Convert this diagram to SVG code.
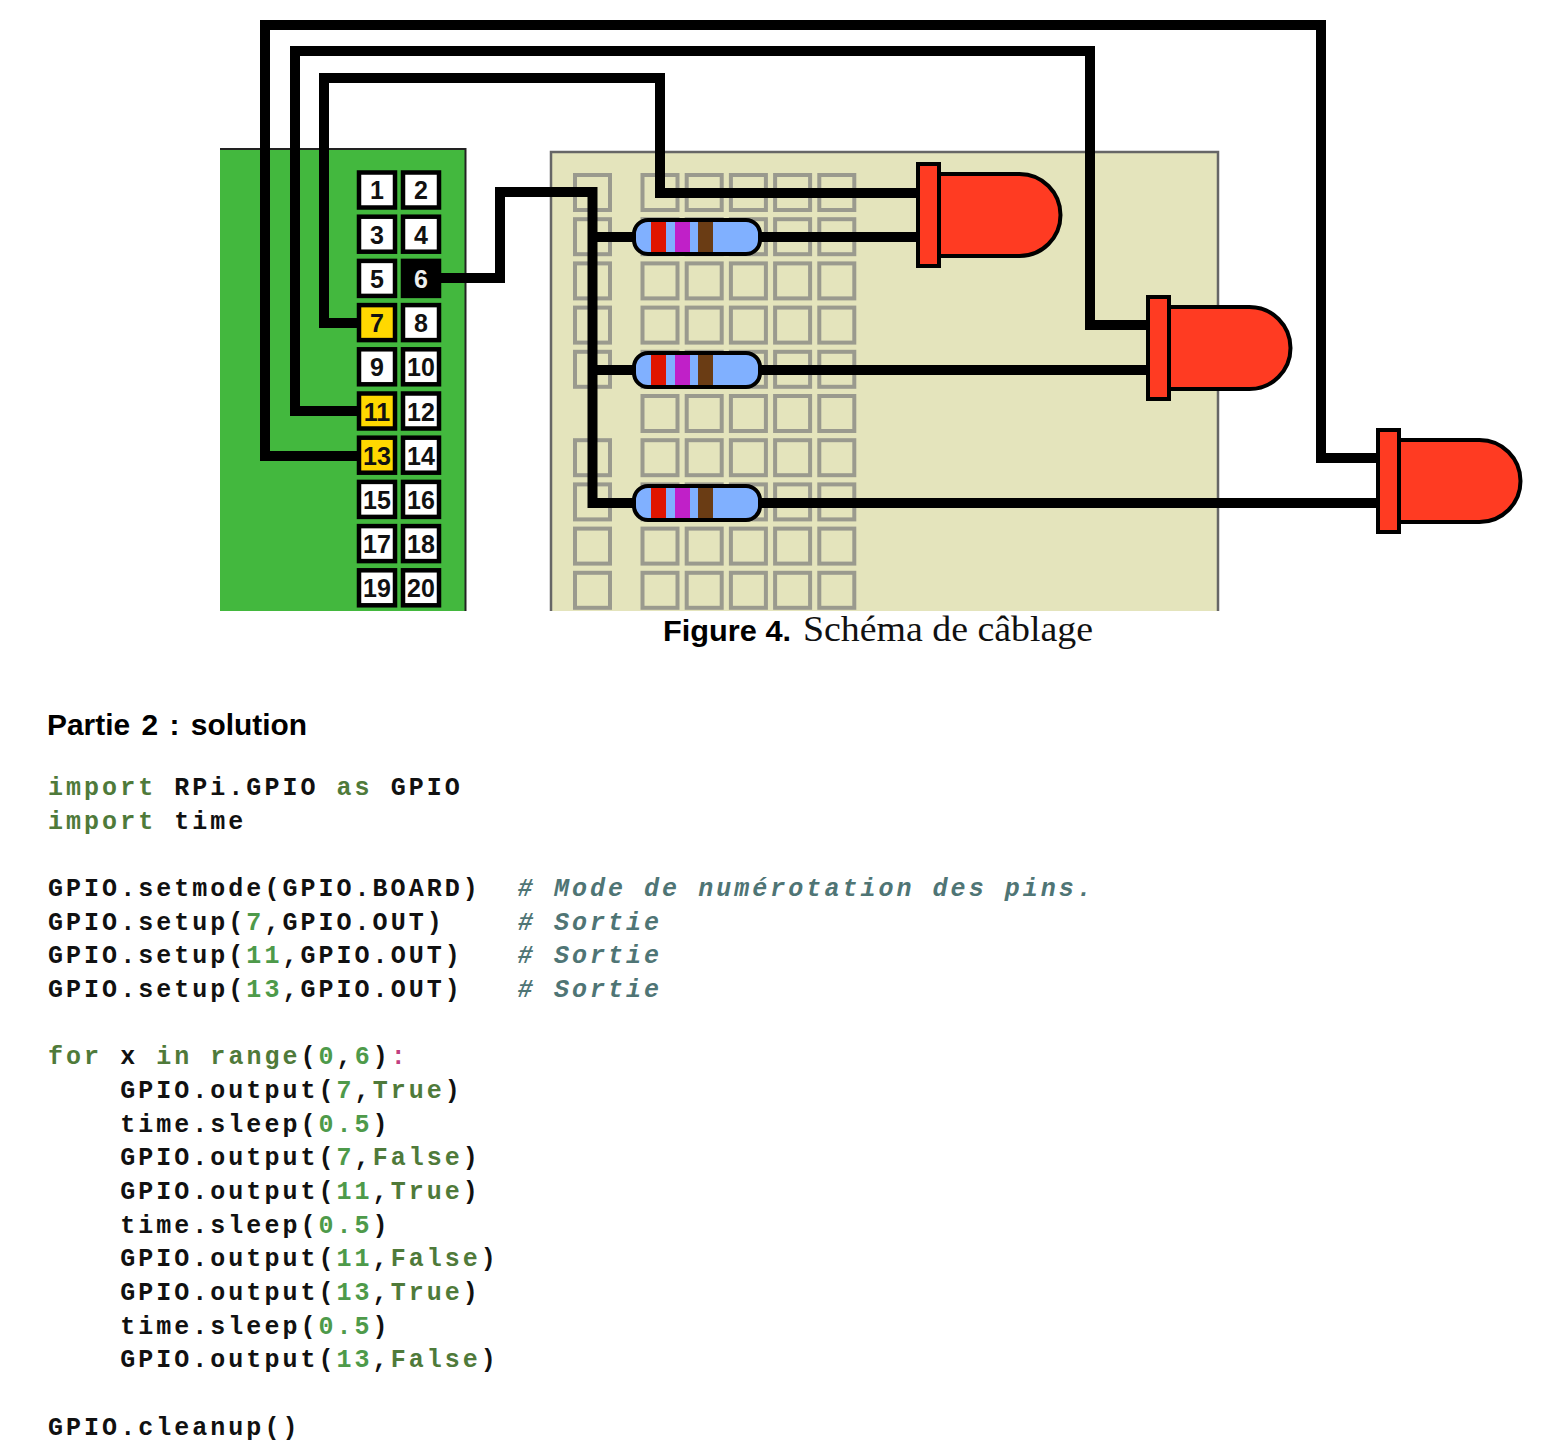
<svg xmlns="http://www.w3.org/2000/svg" width="1556" height="1454" viewBox="0 0 1556 1454">
<style>
.wire{fill:none;stroke:#000;stroke-width:10;stroke-linejoin:miter}
.pad{fill:none;stroke:#9a9a8e;stroke-width:4}
.pin{fill:#fff;stroke:#000;stroke-width:4.5}
.y{fill:#ffd800}
.k{fill:#000}
.pt{font:bold 25px "Liberation Sans",Arial,sans-serif;text-anchor:middle;fill:#111}
.w{fill:#eee}
.led{fill:#ff3b22;stroke:#000;stroke-width:4}
.rb{fill:#80b0ff;stroke:#000;stroke-width:4}
.code{font:bold 25px "Liberation Mono","Courier New",monospace;letter-spacing:3.03px;fill:#111;white-space:pre}
.kw{fill:#4f7a3a}
.n{fill:#4e9a4a}
.c{fill:#4f7575;font-style:italic}
.p{fill:#c04080}
</style>
<defs>
<clipPath id="img"><rect x="220" y="0" width="1320" height="611"/></clipPath>
<rect id="h" class="pad" x="-17.5" y="-17.5" width="35" height="35"/>
<g id="res">
<rect class="rb" x="634" y="-17" width="126" height="34" rx="14"/>
<rect x="651" y="-15" width="15" height="30" fill="#e01500"/>
<rect x="675" y="-15" width="15" height="30" fill="#c020c8"/>
<rect x="698" y="-15" width="15" height="30" fill="#6a3c14"/>
</g>
<g id="ledshape">
<path class="led" d="M938 174H1019A41 41 0 0 1 1019 256H938Z"/>
<rect class="led" x="917.5" y="164" width="21" height="102"/>
</g>
</defs>
<g clip-path="url(#img)">
<g id="board">
<rect x="210" y="149" width="255.5" height="480" fill="#43b83e" stroke="#222" stroke-width="2"/>
</g>
<g id="breadboard">
<rect x="551" y="152" width="667" height="480" fill="#e4e4bc" stroke="#666" stroke-width="2.5"/>
<g id="pads">
<use href="#h" x="592.5" y="192.5"/><use href="#h" x="592.5" y="236.7"/><use href="#h" x="592.5" y="280.9"/><use href="#h" x="592.5" y="325.1"/><use href="#h" x="592.5" y="369.3"/><use href="#h" x="592.5" y="457.7"/><use href="#h" x="592.5" y="501.9"/><use href="#h" x="592.5" y="546.1"/><use href="#h" x="592.5" y="590.3"/>
<use href="#h" x="660" y="192.5"/><use href="#h" x="660" y="236.7"/><use href="#h" x="660" y="280.9"/><use href="#h" x="660" y="325.1"/><use href="#h" x="660" y="369.3"/><use href="#h" x="660" y="413.5"/><use href="#h" x="660" y="457.7"/><use href="#h" x="660" y="501.9"/><use href="#h" x="660" y="546.1"/><use href="#h" x="660" y="590.3"/>
<use href="#h" x="704.2" y="192.5"/><use href="#h" x="704.2" y="236.7"/><use href="#h" x="704.2" y="280.9"/><use href="#h" x="704.2" y="325.1"/><use href="#h" x="704.2" y="369.3"/><use href="#h" x="704.2" y="413.5"/><use href="#h" x="704.2" y="457.7"/><use href="#h" x="704.2" y="501.9"/><use href="#h" x="704.2" y="546.1"/><use href="#h" x="704.2" y="590.3"/>
<use href="#h" x="748.4" y="192.5"/><use href="#h" x="748.4" y="236.7"/><use href="#h" x="748.4" y="280.9"/><use href="#h" x="748.4" y="325.1"/><use href="#h" x="748.4" y="369.3"/><use href="#h" x="748.4" y="413.5"/><use href="#h" x="748.4" y="457.7"/><use href="#h" x="748.4" y="501.9"/><use href="#h" x="748.4" y="546.1"/><use href="#h" x="748.4" y="590.3"/>
<use href="#h" x="792.6" y="192.5"/><use href="#h" x="792.6" y="236.7"/><use href="#h" x="792.6" y="280.9"/><use href="#h" x="792.6" y="325.1"/><use href="#h" x="792.6" y="369.3"/><use href="#h" x="792.6" y="413.5"/><use href="#h" x="792.6" y="457.7"/><use href="#h" x="792.6" y="501.9"/><use href="#h" x="792.6" y="546.1"/><use href="#h" x="792.6" y="590.3"/>
<use href="#h" x="836.8" y="192.5"/><use href="#h" x="836.8" y="236.7"/><use href="#h" x="836.8" y="280.9"/><use href="#h" x="836.8" y="325.1"/><use href="#h" x="836.8" y="369.3"/><use href="#h" x="836.8" y="413.5"/><use href="#h" x="836.8" y="457.7"/><use href="#h" x="836.8" y="501.9"/><use href="#h" x="836.8" y="546.1"/><use href="#h" x="836.8" y="590.3"/>
</g>
</g>
<g id="connectors">
<path class="wire" d="M358 323H324V78H660V193H918"/>
<path class="wire" d="M358 411H295V51H1090V325H1149"/>
<path class="wire" d="M358 456H265V25H1321V458H1378"/>
<path class="wire" d="M440 278H500V192H592.5V503H634"/>
<path class="wire" d="M592 237H634M592 370H634"/>
<path class="wire" d="M760 237H918M760 370H1149M760 503H1378"/>
</g>
<g id="pin1"><rect class="pin" x="359" y="172.5" width="36" height="35"/><text class="pt" x="377" y="199">1</text></g>
<g id="pin2"><rect class="pin" x="403" y="172.5" width="36" height="35"/><text class="pt" x="421" y="199">2</text></g>
<g id="pin3"><rect class="pin" x="359" y="216.7" width="36" height="35"/><text class="pt" x="377" y="243.5">3</text></g>
<g id="pin4"><rect class="pin" x="403" y="216.7" width="36" height="35"/><text class="pt" x="421" y="243.5">4</text></g>
<g id="pin5"><rect class="pin" x="359" y="260.9" width="36" height="35"/><text class="pt" x="377" y="288">5</text></g>
<g id="pin6"><rect class="pin k" x="403" y="260.9" width="36" height="35"/><text class="pt w" x="421" y="288">6</text></g>
<g id="pin7"><rect class="pin y" x="359" y="305.1" width="36" height="35"/><text class="pt" x="377" y="332">7</text></g>
<g id="pin8"><rect class="pin" x="403" y="305.1" width="36" height="35"/><text class="pt" x="421" y="332">8</text></g>
<g id="pin9"><rect class="pin" x="359" y="349.3" width="36" height="35"/><text class="pt" x="377" y="376">9</text></g>
<g id="pin10"><rect class="pin" x="403" y="349.3" width="36" height="35"/><text class="pt" x="421" y="376">10</text></g>
<g id="pin11"><rect class="pin y" x="359" y="393.5" width="36" height="35"/><text class="pt" x="377" y="420.5">11</text></g>
<g id="pin12"><rect class="pin" x="403" y="393.5" width="36" height="35"/><text class="pt" x="421" y="420.5">12</text></g>
<g id="pin13"><rect class="pin y" x="359" y="437.7" width="36" height="35"/><text class="pt" x="377" y="465">13</text></g>
<g id="pin14"><rect class="pin" x="403" y="437.7" width="36" height="35"/><text class="pt" x="421" y="465">14</text></g>
<g id="pin15"><rect class="pin" x="359" y="481.9" width="36" height="35"/><text class="pt" x="377" y="509">15</text></g>
<g id="pin16"><rect class="pin" x="403" y="481.9" width="36" height="35"/><text class="pt" x="421" y="509">16</text></g>
<g id="pin17"><rect class="pin" x="359" y="526.1" width="36" height="35"/><text class="pt" x="377" y="553">17</text></g>
<g id="pin18"><rect class="pin" x="403" y="526.1" width="36" height="35"/><text class="pt" x="421" y="553">18</text></g>
<g id="pin19"><rect class="pin" x="359" y="570.3" width="36" height="35"/><text class="pt" x="377" y="597">19</text></g>
<g id="pin20"><rect class="pin" x="403" y="570.3" width="36" height="35"/><text class="pt" x="421" y="597">20</text></g>
<g id="resistor1"><use href="#res" y="237"/></g>
<g id="resistor2"><use href="#res" y="370"/></g>
<g id="resistor3"><use href="#res" y="503"/></g>
<g id="led1"><use href="#ledshape" x="0.5"/></g>
<g id="led2"><use href="#ledshape" x="230.5" y="133"/></g>
<g id="led3"><use href="#ledshape" x="460.5" y="266"/></g>
</g>
<g id="caption">
<text x="663" y="641" font-family="'Liberation Sans',Arial,sans-serif" font-weight="700" font-size="30" textLength="128" lengthAdjust="spacingAndGlyphs" fill="#000">Figure 4.</text>
<text x="803" y="641" font-family="'Liberation Serif',serif" font-size="35" textLength="290" lengthAdjust="spacingAndGlyphs" fill="#111">Schéma de câblage</text>
</g>
<text id="heading" x="47" y="735" font-family="'Liberation Sans',Arial,sans-serif" font-weight="700" font-size="29" word-spacing="3" textLength="260" lengthAdjust="spacingAndGlyphs" fill="#000">Partie 2 : solution</text>
<g id="code">
<text class="code" x="48" y="795"><tspan class="kw">import</tspan> RPi.GPIO <tspan class="kw">as</tspan> GPIO</text>
<text class="code" x="48" y="829"><tspan class="kw">import</tspan> time</text>
<text class="code" x="48" y="896">GPIO.setmode(GPIO.BOARD)  <tspan class="c" dx="1"># Mode de numérotation des pins.</tspan></text>
<text class="code" x="48" y="929.5">GPIO.setup(<tspan class="n">7</tspan>,GPIO.OUT)    <tspan class="c" dx="1"># Sortie</tspan></text>
<text class="code" x="48" y="963">GPIO.setup(<tspan class="n">11</tspan>,GPIO.OUT)   <tspan class="c" dx="1"># Sortie</tspan></text>
<text class="code" x="48" y="997">GPIO.setup(<tspan class="n">13</tspan>,GPIO.OUT)   <tspan class="c" dx="1"># Sortie</tspan></text>
<text class="code" x="48" y="1064"><tspan class="kw">for</tspan> x <tspan class="kw">in</tspan> <tspan class="kw">range</tspan>(<tspan class="n">0</tspan>,<tspan class="n">6</tspan>)<tspan class="p">:</tspan></text>
<text class="code" x="48" y="1097.5">    GPIO.output(<tspan class="n">7</tspan>,<tspan class="kw">True</tspan>)</text>
<text class="code" x="48" y="1131.5">    time.sleep(<tspan class="n">0.5</tspan>)</text>
<text class="code" x="48" y="1165">    GPIO.output(<tspan class="n">7</tspan>,<tspan class="kw">False</tspan>)</text>
<text class="code" x="48" y="1198.5">    GPIO.output(<tspan class="n">11</tspan>,<tspan class="kw">True</tspan>)</text>
<text class="code" x="48" y="1232.5">    time.sleep(<tspan class="n">0.5</tspan>)</text>
<text class="code" x="48" y="1266">    GPIO.output(<tspan class="n">11</tspan>,<tspan class="kw">False</tspan>)</text>
<text class="code" x="48" y="1299.5">    GPIO.output(<tspan class="n">13</tspan>,<tspan class="kw">True</tspan>)</text>
<text class="code" x="48" y="1333.5">    time.sleep(<tspan class="n">0.5</tspan>)</text>
<text class="code" x="48" y="1367">    GPIO.output(<tspan class="n">13</tspan>,<tspan class="kw">False</tspan>)</text>
<text class="code" x="48" y="1434.5">GPIO.cleanup()</text>
</g>
</svg>
